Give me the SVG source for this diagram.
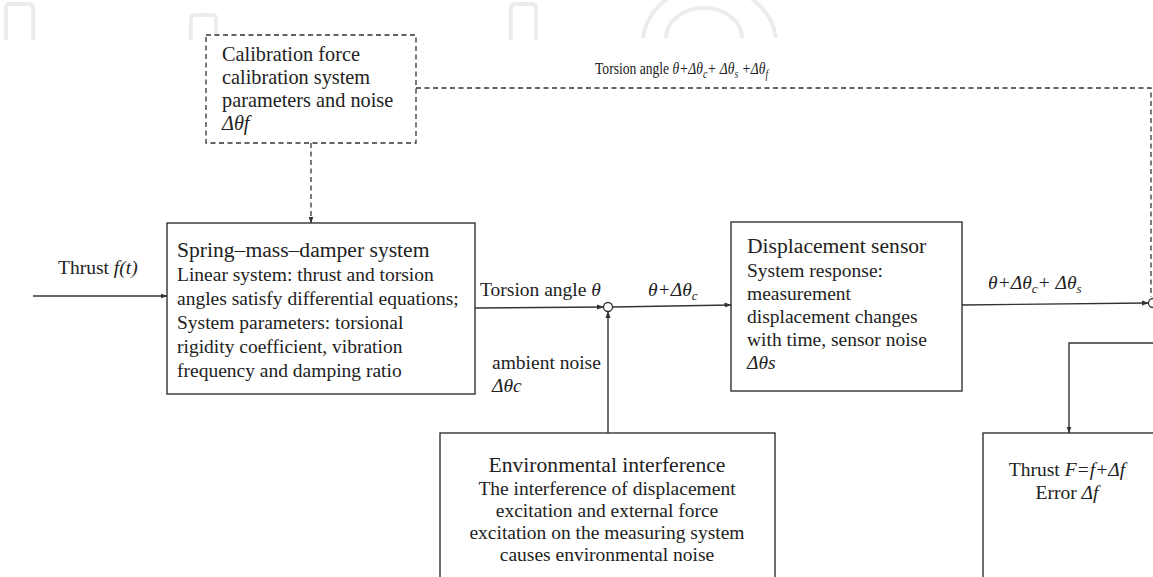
<svg xmlns="http://www.w3.org/2000/svg" width="1153" height="577" viewBox="0 0 1153 577" font-family="'Liberation Serif', 'DejaVu Serif', serif">
<defs>
<style>
text{font-family:"Liberation Serif","DejaVu Serif",serif;fill:#222}
.t{font-size:19.5px}
.c{font-size:20.3px}
.h{font-size:21.6px}
.i{font-style:italic}
.box{fill:#fff;stroke:#333;stroke-width:1.4}
.dbox{fill:#fff;stroke:#333;stroke-width:1.3;stroke-dasharray:5,3.5}
.ln{fill:none;stroke:#333;stroke-width:1.4}
.dl{fill:none;stroke:#333;stroke-width:1.3;stroke-dasharray:5,3.5}
.wm{fill:none;stroke:#ececec;stroke-width:4}
</style>
<marker id="ah" markerWidth="7" markerHeight="6" refX="6.5" refY="3" orient="auto" markerUnits="userSpaceOnUse">
<path d="M0,0.5 L7,3 L0,5.5 Z" fill="#333"/>
</marker>
</defs>
<rect width="1153" height="577" fill="#fff"/>
<g id="watermark">
<path class="wm" d="M6,40 V8 Q6,4 10,4 H29 Q33,4 33,8 V40"/>
<path class="wm" d="M191,40 V19 Q191,15 195,15 H212 Q216,15 216,19 V40"/>
<path class="wm" d="M511,40 V8 Q511,4 515,4 H532 Q536,4 536,8 V40"/>
<path class="wm" d="M643,38 A67,60 0 0 1 776,38"/>
<path class="wm" d="M666,38 A38,30 0 0 1 742,38"/>
</g>
<g id="connectors">
<line class="ln" x1="33" y1="296" x2="167" y2="296" marker-end="url(#ah)"/>
<line class="dl" x1="311" y1="143" x2="311" y2="223" marker-end="url(#ah)"/>
<polyline class="dl" points="416,88 1151,88 1151,297"/>
<line class="ln" x1="475" y1="308" x2="603.5" y2="307" marker-end="url(#ah)"/>
<line class="ln" x1="612.5" y1="307" x2="731" y2="305" marker-end="url(#ah)"/>
<line class="ln" x1="608" y1="433" x2="608" y2="311.5" marker-end="url(#ah)"/>
<line class="ln" x1="962" y1="305" x2="1148.5" y2="303" marker-end="url(#ah)"/>
<polyline class="ln" points="1153,343 1069,343 1069,433" marker-end="url(#ah)"/>
<circle cx="608" cy="307" r="4.5" fill="#fff" stroke="#333" stroke-width="1.3"/>
<circle cx="1153" cy="303" r="4.5" fill="#fff" stroke="#333" stroke-width="1.3"/>
</g>
<g id="labels">
<text class="t" x="58" y="274">Thrust <tspan class="i">f(t)</tspan></text>
<text class="t" x="480" y="296">Torsion angle <tspan class="i">θ</tspan></text>
<text class="t i" x="648" y="296">θ+Δθ<tspan font-size="13" dy="4">c</tspan></text>
<text class="t" x="492" y="369">ambient noise</text>
<text class="t i" x="492" y="392">Δθc</text>
<text class="t i" x="988" y="289">θ+Δθ<tspan font-size="13" dy="4">c</tspan><tspan dy="-4">+ Δθ</tspan><tspan font-size="13" dy="4">s</tspan></text>
<text font-size="17" transform="translate(595,74) scale(0.8,1)">Torsion angle <tspan class="i">θ+Δθ</tspan><tspan class="i" font-size="12" dy="4">c</tspan><tspan class="i" dy="-4">+ Δθ</tspan><tspan class="i" font-size="12" dy="4">s</tspan><tspan class="i" dy="-4"> +Δθ</tspan><tspan class="i" font-size="12" dy="4">f</tspan></text>
</g>
<g id="calibration">
<rect class="dbox" x="206" y="35" width="210" height="108"/>
<text class="c" x="222" y="61">Calibration force</text>
<text class="c" x="222" y="84">calibration system</text>
<text class="c" x="222" y="107">parameters and noise</text>
<text class="c i" x="222" y="130">Δθf</text>
</g>
<g id="spring-mass-damper">
<rect class="box" x="167" y="223" width="308" height="171"/>
<text class="h" x="177" y="257">Spring–mass–damper system</text>
<text class="t" x="177" y="281">Linear system: thrust and torsion</text>
<text class="t" x="177" y="305">angles satisfy differential equations;</text>
<text class="t" x="177" y="329">System parameters: torsional</text>
<text class="t" x="177" y="353">rigidity coefficient, vibration</text>
<text class="t" x="177" y="377">frequency and damping ratio</text>
</g>
<g id="displacement-sensor">
<rect class="box" x="731" y="222" width="231" height="169"/>
<text class="h" x="747" y="253">Displacement sensor</text>
<text class="t" x="747" y="277">System response:</text>
<text class="t" x="747" y="300">measurement</text>
<text class="t" x="747" y="323">displacement changes</text>
<text class="t" x="747" y="346">with time, sensor noise</text>
<text class="t i" x="747" y="369">Δθs</text>
</g>
<g id="environmental-interference">
<rect class="box" x="440" y="433" width="335" height="160"/>
<text class="h" x="607" y="472" text-anchor="middle">Environmental interference</text>
<text class="t" x="607" y="495" text-anchor="middle">The interference of displacement</text>
<text class="t" x="607" y="517" text-anchor="middle">excitation and external force</text>
<text class="t" x="607" y="539" text-anchor="middle">excitation on the measuring system</text>
<text class="t" x="607" y="561" text-anchor="middle">causes environmental noise</text>
</g>
<g id="thrust-output">
<rect class="box" x="983" y="433" width="200" height="160"/>
<text class="t" x="1067" y="476" text-anchor="middle">Thrust <tspan class="i">F=f+Δf</tspan></text>
<text class="t" x="1067" y="499" text-anchor="middle">Error <tspan class="i">Δf</tspan></text>
</g>
</svg>
